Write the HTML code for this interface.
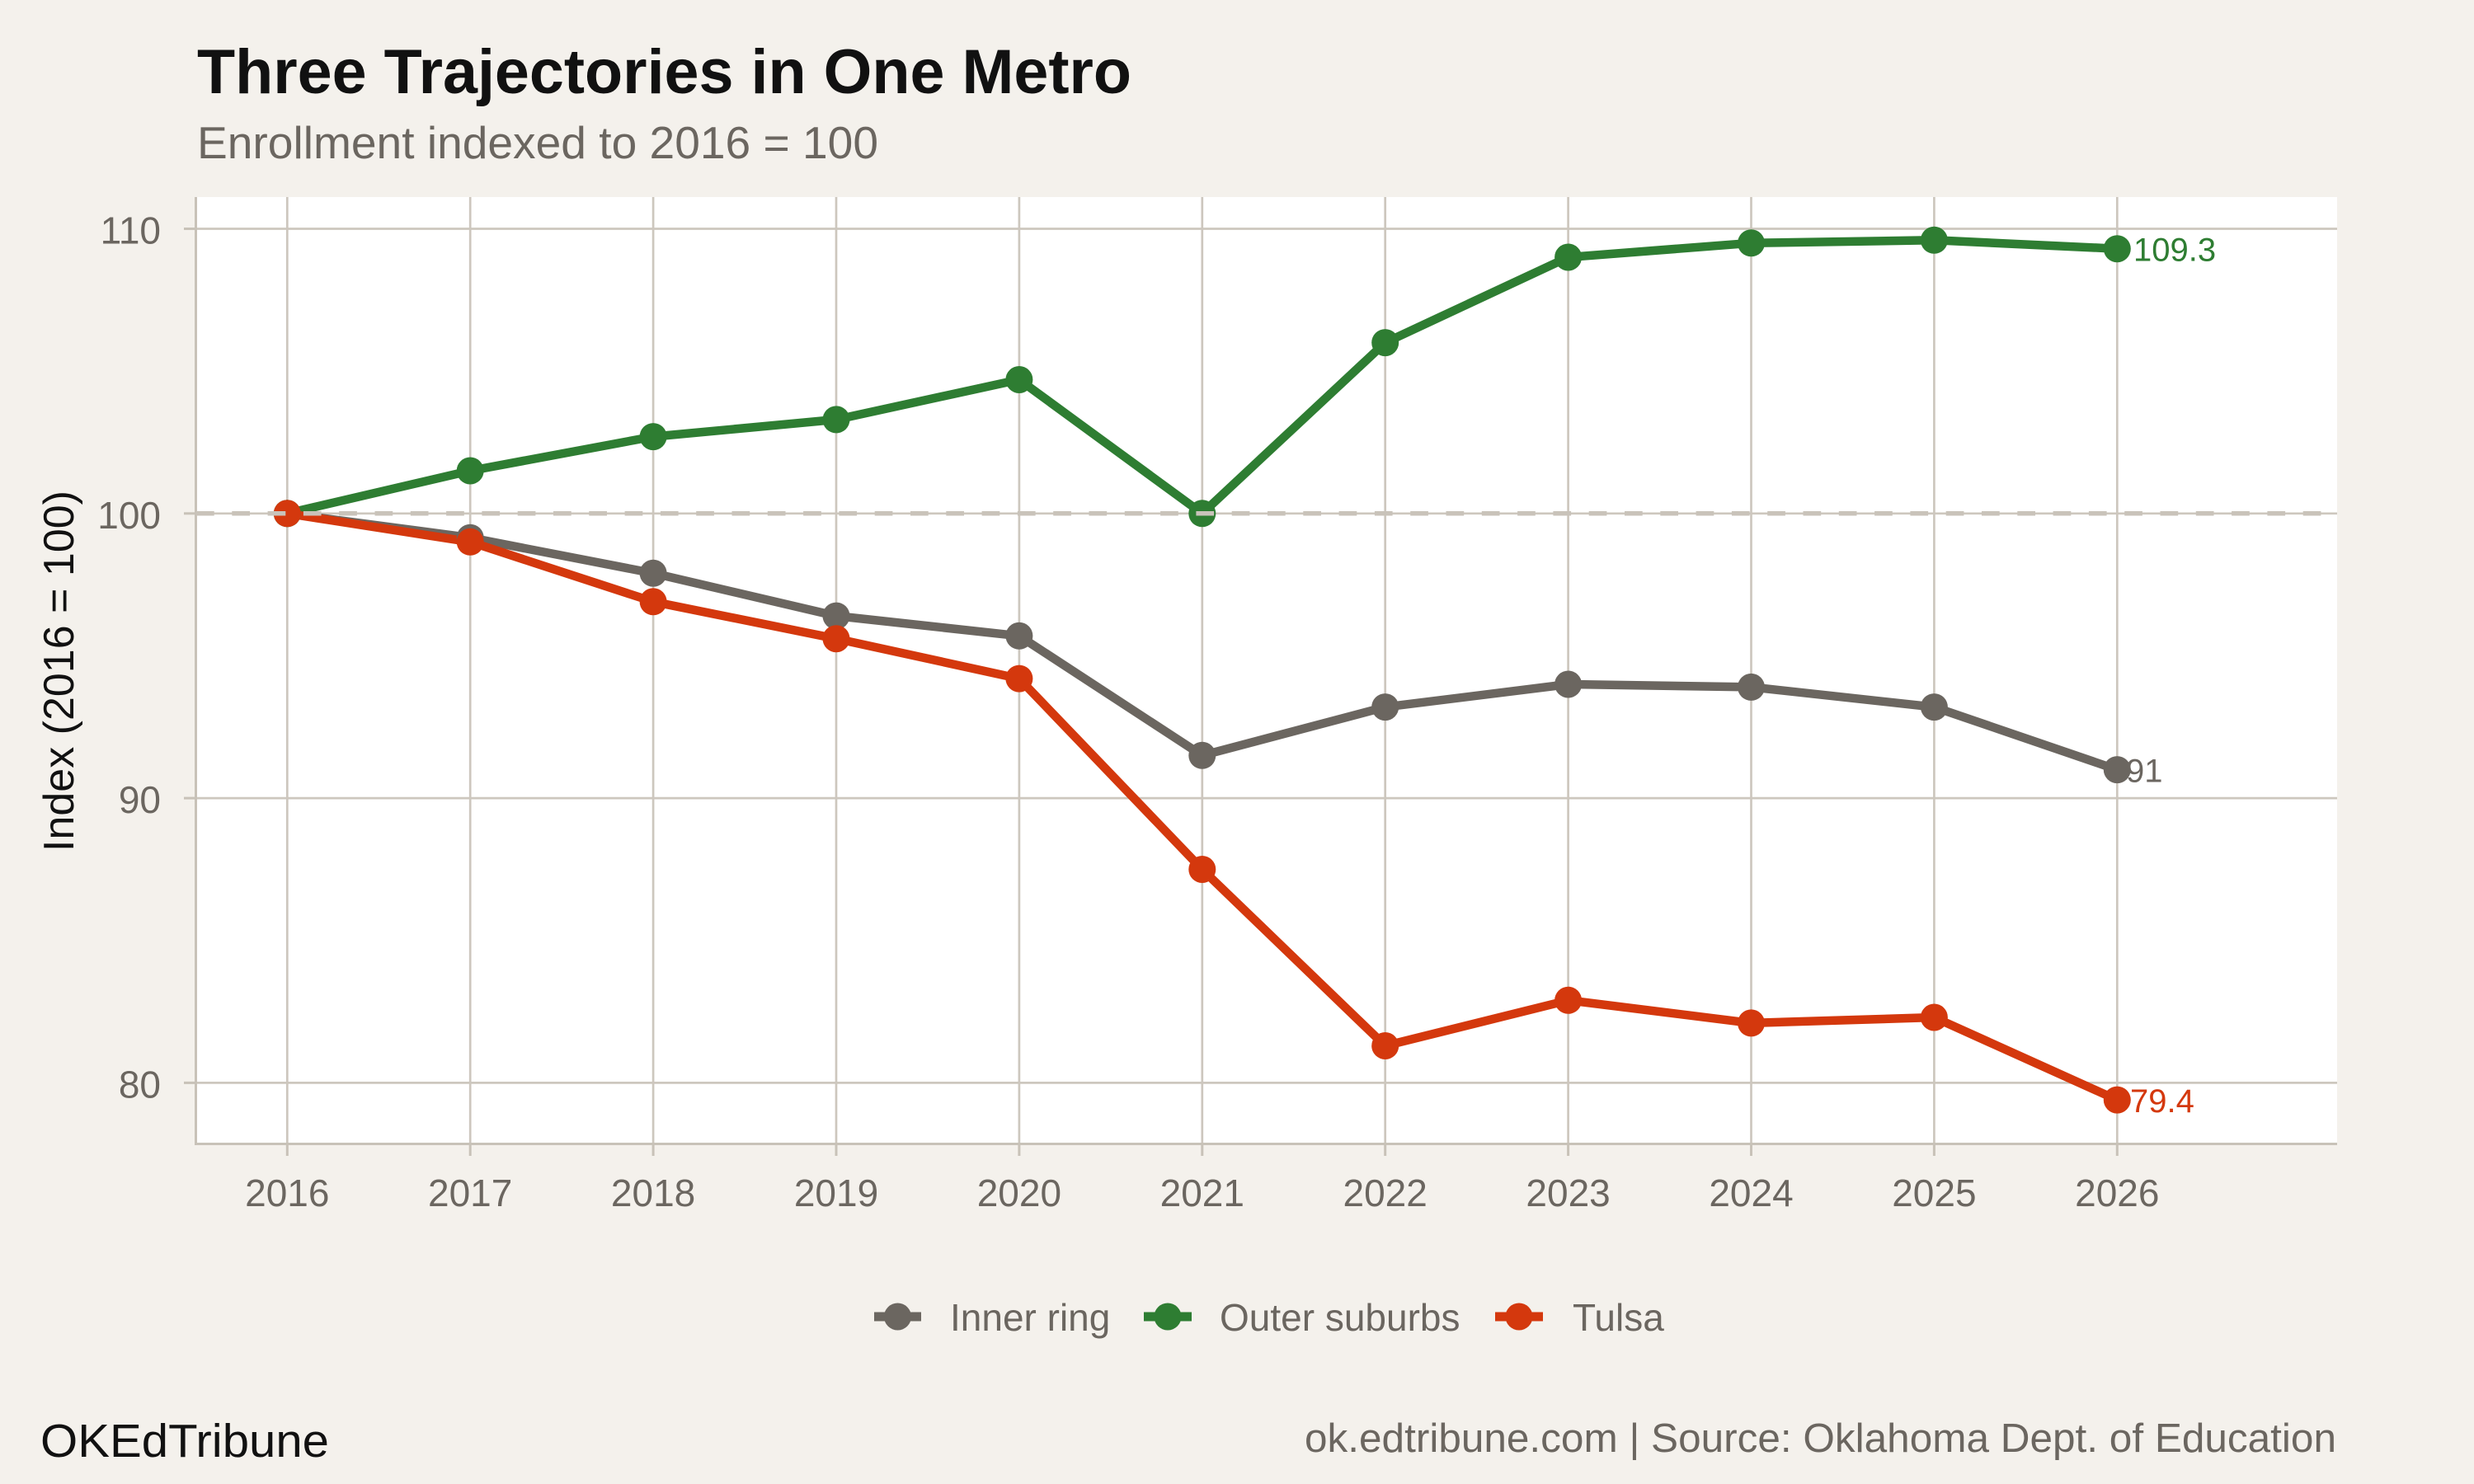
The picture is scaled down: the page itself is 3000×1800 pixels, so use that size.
<!DOCTYPE html>
<html><head><meta charset="utf-8"><style>
html,body{margin:0;padding:0;background:#F4F1EC;}
svg{display:block;}
text{font-family:"Liberation Sans",Arial,Helvetica,sans-serif;}
</style></head><body>
<svg width="3000" height="1800" viewBox="0 0 3000 1800" xmlns="http://www.w3.org/2000/svg">
<rect x="0" y="0" width="3000" height="1800" fill="#F4F1EC"/>
<!-- title -->
<text x="239" y="113" font-size="76" font-weight="bold" fill="#111111" textLength="1133" lengthAdjust="spacingAndGlyphs">Three Trajectories in One Metro</text>
<text x="239" y="192" font-size="55" fill="#6B6660" textLength="826" lengthAdjust="spacingAndGlyphs">Enrollment indexed to 2016 = 100</text>
<!-- panel -->
<rect x="238" y="239" width="2596" height="1148" fill="#FFFFFF"/>
<g stroke="#CDC7BE" stroke-width="2.7" fill="none">
<line x1="238" y1="277.5" x2="2834" y2="277.5"/>
<line x1="238" y1="622.8" x2="2834" y2="622.8"/>
<line x1="238" y1="968.1" x2="2834" y2="968.1"/>
<line x1="238" y1="1313.4" x2="2834" y2="1313.4"/>
<line x1="348.3" y1="239" x2="348.3" y2="1387"/>
<line x1="570.2" y1="239" x2="570.2" y2="1387"/>
<line x1="792.1" y1="239" x2="792.1" y2="1387"/>
<line x1="1014.0" y1="239" x2="1014.0" y2="1387"/>
<line x1="1235.9" y1="239" x2="1235.9" y2="1387"/>
<line x1="1457.8" y1="239" x2="1457.8" y2="1387"/>
<line x1="1679.7" y1="239" x2="1679.7" y2="1387"/>
<line x1="1901.6" y1="239" x2="1901.6" y2="1387"/>
<line x1="2123.5" y1="239" x2="2123.5" y2="1387"/>
<line x1="2345.4" y1="239" x2="2345.4" y2="1387"/>
<line x1="2567.3" y1="239" x2="2567.3" y2="1387"/>
</g>
<!-- axis lines and ticks -->
<g stroke="#C8C2B8" stroke-width="3" fill="none">
<line x1="237.5" y1="239" x2="237.5" y2="1389"/>
<line x1="236" y1="1387.5" x2="2834" y2="1387.5"/>
<line x1="223" y1="277.5" x2="237" y2="277.5"/>
<line x1="223" y1="622.8" x2="237" y2="622.8"/>
<line x1="223" y1="968.1" x2="237" y2="968.1"/>
<line x1="223" y1="1313.4" x2="237" y2="1313.4"/>
<line x1="348.3" y1="1388" x2="348.3" y2="1402"/>
<line x1="570.2" y1="1388" x2="570.2" y2="1402"/>
<line x1="792.1" y1="1388" x2="792.1" y2="1402"/>
<line x1="1014.0" y1="1388" x2="1014.0" y2="1402"/>
<line x1="1235.9" y1="1388" x2="1235.9" y2="1402"/>
<line x1="1457.8" y1="1388" x2="1457.8" y2="1402"/>
<line x1="1679.7" y1="1388" x2="1679.7" y2="1402"/>
<line x1="1901.6" y1="1388" x2="1901.6" y2="1402"/>
<line x1="2123.5" y1="1388" x2="2123.5" y2="1402"/>
<line x1="2345.4" y1="1388" x2="2345.4" y2="1402"/>
<line x1="2567.3" y1="1388" x2="2567.3" y2="1402"/>
</g>
<!-- y tick labels -->
<g font-size="46" fill="#6B6660" text-anchor="end">
<text x="195" y="295.5">110</text>
<text x="195" y="640.8">100</text>
<text x="195" y="986.1">90</text>
<text x="195" y="1331.4">80</text>
</g>
<!-- x tick labels -->
<g font-size="46" fill="#6B6660" text-anchor="middle">
<text x="348.3" y="1463">2016</text>
<text x="570.2" y="1463">2017</text>
<text x="792.1" y="1463">2018</text>
<text x="1014.0" y="1463">2019</text>
<text x="1235.9" y="1463">2020</text>
<text x="1457.8" y="1463">2021</text>
<text x="1679.7" y="1463">2022</text>
<text x="1901.6" y="1463">2023</text>
<text x="2123.5" y="1463">2024</text>
<text x="2345.4" y="1463">2025</text>
<text x="2567.3" y="1463">2026</text>
</g>
<!-- y axis title -->
<text transform="translate(89,814) rotate(-90)" font-size="52" fill="#111111" text-anchor="middle">Index (2016 = 100)</text>
<!-- series lines -->
<g fill="none" stroke-width="10.5" stroke-linejoin="round" stroke-linecap="butt">
<polyline stroke="#6B6660" points="348.3,622.8 570.2,652.2 792.1,695.3 1014.0,747.1 1235.9,771.3 1457.8,916.3 1679.7,857.6 1901.6,830.0 2123.5,833.4 2345.4,857.6 2567.3,933.6"/>
<polyline stroke="#2E7D32" points="348.3,622.8 570.2,571.0 792.1,529.6 1014.0,508.9 1235.9,460.5 1457.8,622.8 1679.7,415.6 1901.6,312.0 2123.5,294.8 2345.4,291.3 2567.3,301.7"/>
<polyline stroke="#D4380D" points="348.3,622.8 570.2,657.3 792.1,729.8 1014.0,774.7 1235.9,823.1 1457.8,1054.5 1679.7,1268.5 1901.6,1213.3 2123.5,1240.9 2345.4,1234.0 2567.3,1334.1"/>
</g>
<!-- points -->
<g fill="#6B6660">
<circle cx="348.3" cy="622.8" r="16.5"/><circle cx="570.2" cy="652.2" r="16.5"/><circle cx="792.1" cy="695.3" r="16.5"/><circle cx="1014.0" cy="747.1" r="16.5"/><circle cx="1235.9" cy="771.3" r="16.5"/><circle cx="1457.8" cy="916.3" r="16.5"/><circle cx="1679.7" cy="857.6" r="16.5"/><circle cx="1901.6" cy="830.0" r="16.5"/><circle cx="2123.5" cy="833.4" r="16.5"/><circle cx="2345.4" cy="857.6" r="16.5"/><circle cx="2567.3" cy="933.6" r="16.5"/>
</g>
<g fill="#2E7D32">
<circle cx="348.3" cy="622.8" r="16.5"/><circle cx="570.2" cy="571.0" r="16.5"/><circle cx="792.1" cy="529.6" r="16.5"/><circle cx="1014.0" cy="508.9" r="16.5"/><circle cx="1235.9" cy="460.5" r="16.5"/><circle cx="1457.8" cy="622.8" r="16.5"/><circle cx="1679.7" cy="415.6" r="16.5"/><circle cx="1901.6" cy="312.0" r="16.5"/><circle cx="2123.5" cy="294.8" r="16.5"/><circle cx="2345.4" cy="291.3" r="16.5"/><circle cx="2567.3" cy="301.7" r="16.5"/>
</g>
<g fill="#D4380D">
<circle cx="348.3" cy="622.8" r="16.5"/><circle cx="570.2" cy="657.3" r="16.5"/><circle cx="792.1" cy="729.8" r="16.5"/><circle cx="1014.0" cy="774.7" r="16.5"/><circle cx="1235.9" cy="823.1" r="16.5"/><circle cx="1457.8" cy="1054.5" r="16.5"/><circle cx="1679.7" cy="1268.5" r="16.5"/><circle cx="1901.6" cy="1213.3" r="16.5"/><circle cx="2123.5" cy="1240.9" r="16.5"/><circle cx="2345.4" cy="1234.0" r="16.5"/><circle cx="2567.3" cy="1334.1" r="16.5"/>
</g>
<!-- dashed reference line at 100 -->
<line x1="238" y1="622.8" x2="2834" y2="622.8" stroke="#C9C3BA" stroke-width="5.5" stroke-dasharray="21.7 21.6"/>
<!-- end labels -->
<g font-size="40">
<text x="2587" y="316.7" fill="#2E7D32">109.3</text>
<text x="2578" y="948.6" fill="#6B6660">91</text>
<text x="2583" y="1349.1" fill="#D4380D">79.4</text>
</g>
<!-- legend -->
<g stroke-width="11">
<line x1="1060" y1="1597" x2="1117" y2="1597" stroke="#6B6660"/>
<line x1="1387" y1="1597" x2="1445" y2="1597" stroke="#2E7D32"/>
<line x1="1813" y1="1597" x2="1871" y2="1597" stroke="#D4380D"/>
</g>
<circle cx="1088.5" cy="1597" r="16.5" fill="#6B6660"/>
<circle cx="1416" cy="1597" r="16.5" fill="#2E7D32"/>
<circle cx="1842" cy="1597" r="16.5" fill="#D4380D"/>
<g font-size="46" fill="#6B6660">
<text x="1152" y="1614">Inner ring</text>
<text x="1479" y="1614">Outer suburbs</text>
<text x="1907" y="1614">Tulsa</text>
</g>
<!-- captions -->
<text x="49" y="1767" font-size="57" fill="#111111" textLength="350" lengthAdjust="spacingAndGlyphs">OKEdTribune</text>
<text x="2833" y="1761" font-size="49.5" fill="#6B6660" text-anchor="end" textLength="1251" lengthAdjust="spacingAndGlyphs">ok.edtribune.com | Source: Oklahoma Dept. of Education</text>
</svg>
</body></html>
